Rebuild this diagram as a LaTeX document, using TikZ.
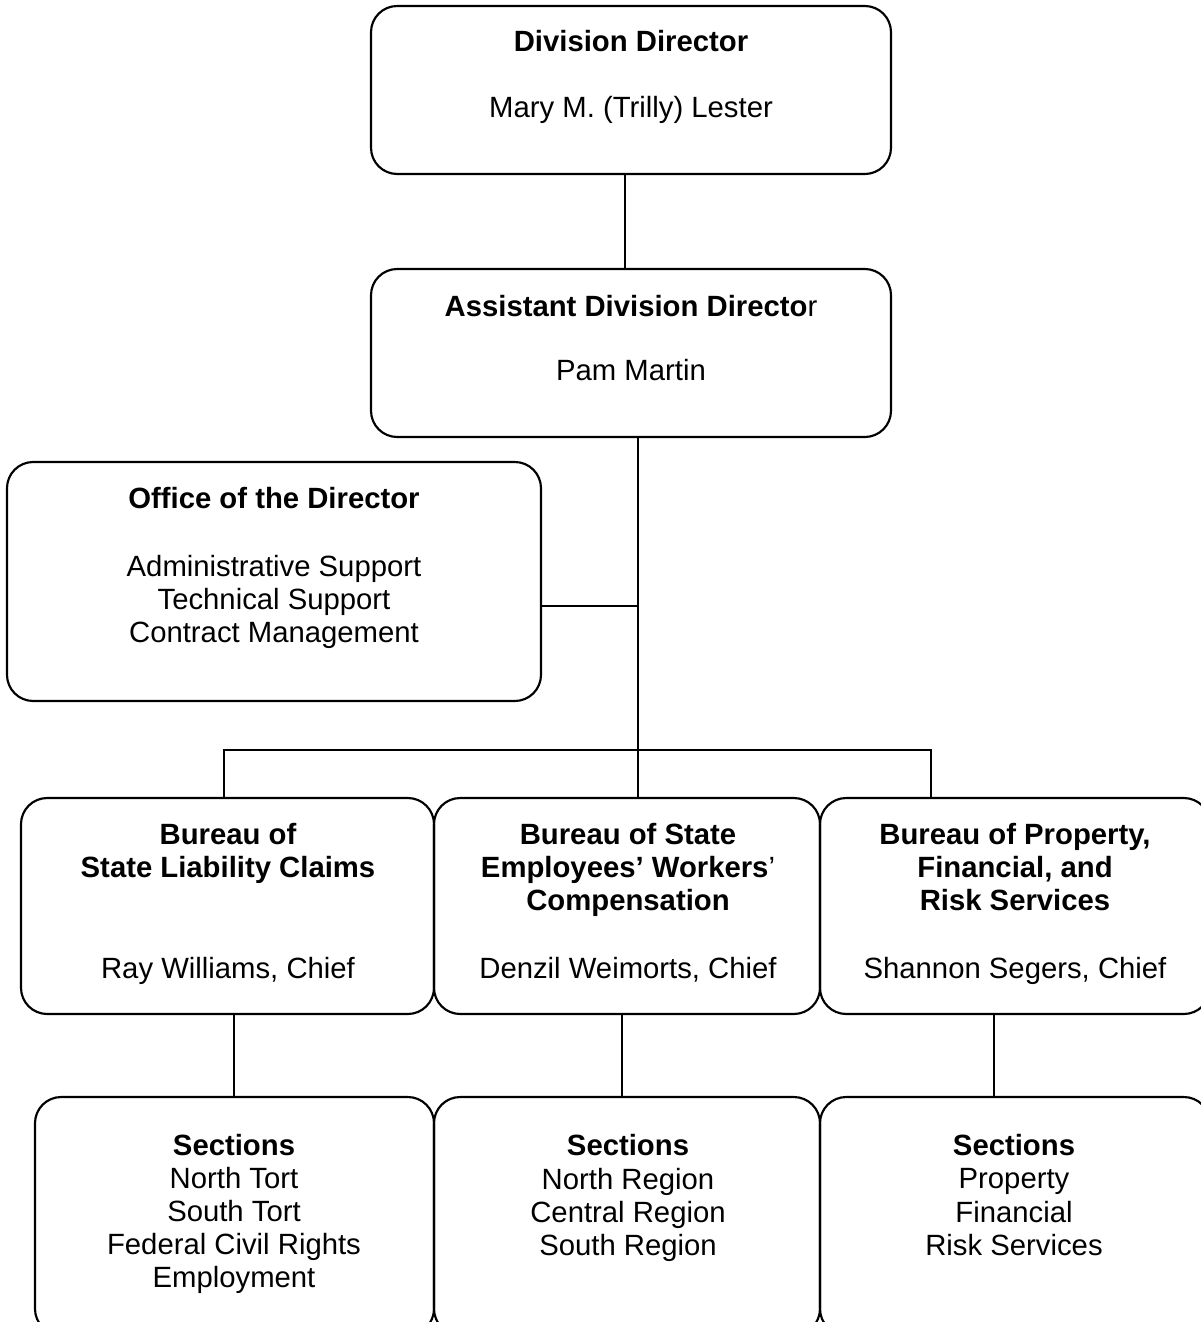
\documentclass[tikz,border=0pt]{standalone}
\usepackage{fontspec}
\setmainfont{Liberation Sans}
\usepackage{tikz}
\usetikzlibrary{positioning}

\begin{document}
\begin{tikzpicture}[x=0.42pt,y=-0.42pt]

\def\u{0.42pt}
\tikzstyle{box} = [draw, rectangle, rounded corners=11pt, line width=0.9pt];
\tikzstyle{txt} = [align=center, inner sep=0pt, font=\fontsize{12.3}{13.9}\selectfont];
\tikzstyle{link} = [line width=0.8pt];

\useasboundingbox (0,0) rectangle (1201,1322);
\clip (0,0) rectangle (1201,1322);

% boxes
\node[box, minimum width=520*\u, minimum height=168*\u] (dd) at (631,90) {};
\node[box, minimum width=520*\u, minimum height=168*\u] (ad) at (631,353) {};
\node[box, minimum width=534*\u, minimum height=239*\u] (od) at (274,581.5) {};
\node[box, minimum width=413*\u, minimum height=216*\u] (b1) at (227.5,906) {};
\node[box, minimum width=386*\u, minimum height=216*\u] (b2) at (627,906) {};
\node[box, minimum width=390*\u, minimum height=216*\u] (b3) at (1015,906) {};
\node[box, minimum width=399*\u, minimum height=238*\u] (s1) at (234.5,1216) {};
\node[box, minimum width=386*\u, minimum height=238*\u] (s2) at (627,1216) {};
\node[box, minimum width=390*\u, minimum height=238*\u] (s3) at (1015,1216) {};

% texts
\node[txt] (ddt) at (631,41) {\textbf{Division Director}};
\node[txt] (ddn) at (631,110) {Mary M. (Trilly) Lester};
\node[txt] (adt) at (631,306) {\textbf{Assistant Division Directo}r};
\node[txt] (adn) at (631,370) {Pam Martin};
\node[txt] (odt) at (274,498) {\textbf{Office of the Director}};
\node[txt] (odn) at (274,602) {Administrative Support\\Technical Support\\Contract Management};
\node[txt] (b1t) at (228,853) {\textbf{Bureau of}\\\textbf{State Liability Claims}};
\node[txt] (b2t) at (628,870) {\textbf{Bureau of State}\\\textbf{Employees’ Workers}’\\\textbf{Compensation}};
\node[txt] (b3t) at (1015,867) {\textbf{Bureau of Property,}\\\textbf{Financial, and}\\\textbf{Risk Services}};
\node[txt] (b1n) at (228,971) {Ray Williams, Chief};
\node[txt] (b2n) at (628,970) {Denzil Weimorts, Chief};
\node[txt] (b3n) at (1015,971) {Shannon Segers, Chief};
\node[txt] (s1t) at (234,1214) {\textbf{Sections}\\North Tort\\South Tort\\Federal Civil Rights\\Employment};
\node[txt] (s2t) at (628,1198) {\textbf{Sections}\\North Region\\Central Region\\South Region};
\node[txt] (s3t) at (1014,1195) {\textbf{Sections}\\Property\\Financial\\Risk Services};

% connectors
\coordinate (bus) at (638,750);
\draw[link] (dd.south -| 625,0) -- (ad.north -| 625,0);
\draw[link] (ad.south -| bus) -- (bus);
\draw[link] (od.east |- 0,606) -- (bus |- 0,606);
\draw[link] (b1.north -| 224,0) -- (224,750) -- (931,750) -- (b3.north -| 931,0);
\draw[link] (bus) -- (b2.north -| bus);
\draw[link] (b1.south -| 234,0) -- (s1.north -| 234,0);
\draw[link] (b2.south -| 622,0) -- (s2.north -| 622,0);
\draw[link] (b3.south -| 994,0) -- (s3.north -| 994,0);

\end{tikzpicture}
\end{document}
